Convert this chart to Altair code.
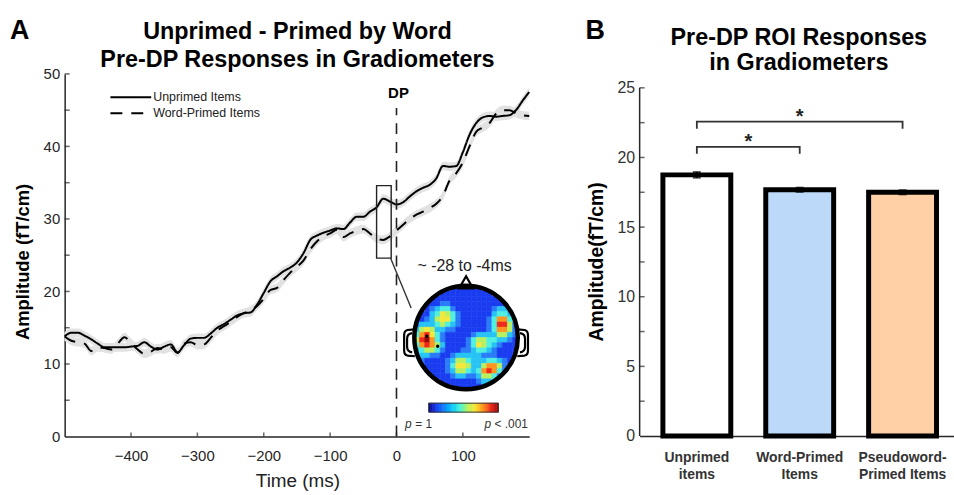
import altair as alt
import numpy as np
import pandas as pd

FONT = "Liberation Sans"
INK = "#262626"

# ---------------- data: panel A ----------------
time_ms = list(range(-500, 201, 10))
unprimed = [13.8, 14.3, 14.3, 13.9, 13.4, 12.8, 12.3, 12.3, 12.3, 12.3,
            12.4, 12.5, 13.0, 12.4, 12.0, 12.4, 12.7, 11.6, 12.6, 13.5,
            13.6, 13.6, 14.2, 15.0, 15.5, 16.1, 16.7, 17.0, 17.1, 18.2,
            19.8, 21.4, 22.1, 22.8, 23.3, 24.0, 25.3, 27.1, 27.7, 28.1,
            28.4, 28.7, 28.6, 29.5, 30.3, 30.3, 31.0, 31.6, 32.8, 32.4,
            32.0, 32.3, 33.1, 33.8, 34.3, 34.7, 35.6, 37.3, 37.2, 37.3,
            39.2, 41.6, 43.2, 44.0, 44.2, 44.1, 44.2, 44.3, 45.0, 46.3, 47.5]
word_primed = [13.8, 13.2, 13.0, 12.8, 11.8, 12.3, 12.2, 12.0, 12.8, 13.7,
               12.9, 12.0, 11.4, 11.7, 12.2, 12.0, 12.3, 11.5, 12.8, 13.0,
               12.6, 12.7, 13.6, 14.6, 15.2, 15.8, 16.5, 17.0, 17.4, 18.0,
               19.0, 20.2, 20.5, 21.6, 22.6, 23.4, 24.3, 25.8, 26.9, 27.6,
               28.0, 28.5, 27.5, 28.0, 28.4, 28.6, 28.0, 27.3, 27.1, 27.6,
               28.4, 29.2, 30.0, 30.6, 31.0, 31.5, 32.1, 33.2, 35.3, 36.3,
               37.8, 40.0, 42.0, 42.6, 43.2, 44.5, 45.0, 45.0, 44.6, 44.3, 44.2]
se_unprimed = 0.6
se_word_primed = 0.6
series_names = ["Unprimed Items", "Word-Primed Items"]
x_tick_values_a = [-400, -300, -200, -100, 0, 100]
y_label_values_a = [0, 10, 20, 30, 40, 50]
y_tick_values_a = [5, 10, 15, 20, 25, 30, 35, 40, 45, 50]
dp_time = 0
dp_top = 45.3
roi_time = [-30, -8]
roi_amp = [24.6, 34.6]
window_label = "~ -28 to -4ms"
# topographic map levels (1 = background blue ... 9 = dark red), rows top->bottom
topo_levels = [
    "11111111111111111111",
    "11111111111111111111",
    "11111111111111111111",
    "11111221111111111111",
    "11123442111111123321",
    "11134654211111134431",
    "11235664211111247742",
    "23334543211111248852",
    "35653322111111247752",
    "47864211111233335532",
    "58974211112455443321",
    "47875311112465432111",
    "34554211122344321111",
    "23322112333332221111",
    "12111123554333443211",
    "11111124665335775211",
    "11111123554347874211",
    "11111112332235542111",
    "11111111111123321111",
    "11111111111111111111",
]
jet_palette = ["#00008f", "#1a3cf0", "#2a7cf8", "#27c3f5", "#50f0e0",
               "#b8f060", "#f5e83a", "#ff9520", "#f0281a", "#9a0a0a"]

# ---------------- data: panel B ----------------
bar_labels = ["Unprimed\nitems", "Word-Primed\nItems", "Pseudoword-\nPrimed Items"]
bar_values = [18.75, 17.68, 17.5]
bar_errors = [0.2, 0.15, 0.15]
bar_colors = ["#ffffff", "#bcd9fa", "#ffd0a6"]
bracket_from = [1, 1]
bracket_to = [2, 3]
bracket_top = [20.76, 22.57]
bracket_drop = 0.5
bracket_text = ["*", "*"]
y_label_values_b = [0, 5, 10, 15, 20, 25]
y_tick_values_b = [2.5, 5, 7.5, 10, 12.5, 15, 17.5, 20, 22.5, 25]
y_axis_top_b = 25

# ---------------- layout ----------------
W1, H1 = 467, 364.5
OX1, OY1 = 65, 73
W2, H2 = 316, 364
OX2, OY2 = 638, 73

X1 = alt.Scale(domain=[-500, 200], nice=False, zero=False)
Y1 = alt.Scale(domain=[0, 50], nice=False, zero=False)
X2 = alt.Scale(domain=[0.444, 3.5], nice=False, zero=False)
Y2 = alt.Scale(domain=[0, 26], nice=False, zero=False)


def t_of(xabs):
    return -500 + (xabs - OX1) * 700 / W1


def v_of(yabs):
    return (OY1 + H1 - yabs) * 50 / H1


axis_x1 = alt.Axis(values=x_tick_values_a, ticks=False, grid=False, labelFontSize=15,
                   labelColor=INK, labelPadding=12, domainColor=INK, domainWidth=1.5,
                   labelFlush=False)
axis_y1 = alt.Axis(values=y_label_values_a, ticks=False, grid=False, labelFontSize=15,
                   labelColor=INK, labelPadding=5, domainColor=INK, domainWidth=1.5,
                   labelFlush=False)
axis_x2 = alt.Axis(labels=False, ticks=False, grid=False, domainColor=INK, domainWidth=1.5)
axis_y2 = alt.Axis(values=y_label_values_b, ticks=False, grid=False, labelFontSize=16,
                   labelColor="#333333", labelPadding=5, domain=False, labelFlush=False)


def xa(f):
    return alt.X(f, type="quantitative", scale=X1, axis=axis_x1, title=None)


def ya(f):
    return alt.Y(f, type="quantitative", scale=Y1, axis=axis_y1, title=None)


def xb(f):
    return alt.X(f, type="quantitative", scale=X2, axis=axis_x2, title=None)


def yb(f):
    return alt.Y(f, type="quantitative", scale=Y2, axis=axis_y2, title=None)


one = pd.DataFrame({"k": [0]})


def label(text, x, y, size, weight="normal", align="center", baseline="middle",
          angle=0, color="black", style="normal"):
    return alt.Chart(one).mark_text(text=text, fontSize=size, fontWeight=weight, align=align,
                                    baseline=baseline, angle=angle, color=color,
                                    fontStyle=style).encode(x=alt.value(x), y=alt.value(y))


# ---------------- panel A layers ----------------
rows = []
for name, vals, se in [(series_names[0], unprimed, se_unprimed),
                       (series_names[1], word_primed, se_word_primed)]:
    for t, v in zip(time_ms, vals):
        rows.append(dict(series=name, t=t, v=v, lo=v - se, hi=v + se))
df_series = pd.DataFrame(rows)

band = alt.Chart(df_series).mark_area(color="#e2e2e2", interpolate="monotone").encode(
    x=xa("t"), y=ya("lo"), y2="hi", detail="series:N")
lines = alt.Chart(df_series).mark_line(color="black", strokeWidth=2, interpolate="monotone").encode(
    x=xa("t"), y=ya("v"),
    strokeDash=alt.StrokeDash("series:N", scale=alt.Scale(domain=series_names, range=[[1, 0], [12, 9]]),
                              legend=None))

df_dp = pd.DataFrame({"t": [dp_time], "v0": [0], "v1": [dp_top], "vt": [47.3]})
dp_rule = alt.Chart(df_dp).mark_rule(strokeDash=[11, 8], strokeWidth=1.6, color="#222222").encode(
    x=xa("t"), y=ya("v0"), y2="v1")
dp_text = alt.Chart(df_dp).mark_text(text="DP", fontSize=15, fontWeight="bold", dx=2).encode(
    x=xa("t"), y=ya("vt"))

df_roi = pd.DataFrame({"t0": [roi_time[0]], "t1": [roi_time[1]], "v0": [roi_amp[0]], "v1": [roi_amp[1]]})
roi = alt.Chart(df_roi).mark_rect(filled=False, stroke="#222222", strokeWidth=1.4).encode(
    x=xa("t0"), x2="t1", y=ya("v0"), y2="v1")
df_conn = pd.DataFrame({"t0": [-9], "v0": [roi_amp[0]], "t1": [t_of(413.3)], "v1": [v_of(308.3)]})
conn = alt.Chart(df_conn).mark_rule(color="#333333", strokeWidth=1.4).encode(
    x=xa("t0"), y=ya("v0"), x2="t1", y2="v1")

# topomap inset
t0, v0 = t_of(468.5), v_of(338)
rt, rv = 52 * 700 / W1, 52 * 50 / H1
n = len(topo_levels)
cells = []
for j, row in enumerate(topo_levels):
    for i, ch in enumerate(row):
        uc = -1 + (i + 0.5) * 2 / n
        wc = 1 - (j + 0.5) * 2 / n
        if uc * uc + wc * wc <= 1.0:
            cells.append(dict(x0=t0 + (uc - 1 / n) * rt, x1=t0 + (uc + 1 / n) * rt,
                              y0=v0 + (wc + 1 / n) * rv, y1=v0 + (wc - 1 / n) * rv, lev=int(ch)))
df_cells = pd.DataFrame(cells)
CS = alt.Scale(domain=list(range(10)), range=jet_palette)
topo = alt.Chart(df_cells).mark_rect(strokeWidth=0.6).encode(
    x=xa("x0"), x2="x1", y=ya("y0"), y2="y1",
    color=alt.Color("lev:Q", scale=CS, legend=None),
    stroke=alt.Stroke("lev:Q", scale=CS, legend=None))

df_head = pd.DataFrame({"t": [t0], "v": [v0]})
mask = alt.Chart(df_head).mark_point(shape="circle", filled=False, color="white", strokeWidth=6,
                                     size=114 ** 2, opacity=1).encode(x=xa("t"), y=ya("v"))
head = alt.Chart(df_head).mark_point(shape="circle", filled=False, color="black", strokeWidth=4.5,
                                     size=104 ** 2, opacity=1).encode(x=xa("t"), y=ya("v"))
df_nose = pd.DataFrame({"t": [t0], "v": [v_of(282.5)]})
nose = alt.Chart(df_nose).mark_point(shape="triangle-up", filled=True, fill="white", stroke="black",
                                     strokeWidth=2.2, size=196, opacity=1).encode(x=xa("t"), y=ya("v"))
left_ear_path = ("M 0.3 -1 L -0.25 -0.95 Q -0.5 -0.9 -0.5 -0.55 L -0.5 0.55 Q -0.5 0.9 -0.25 0.95 L 0.3 1 "
                 "M 0.1 -0.72 Q -0.28 -0.68 -0.28 -0.3 L -0.28 0.3 Q -0.28 0.68 0.1 0.72")
right_ear_path = ("M -0.3 -1 L 0.25 -0.95 Q 0.5 -0.9 0.5 -0.55 L 0.5 0.55 Q 0.5 0.9 0.25 0.95 L -0.3 1 "
                  "M -0.1 -0.72 Q 0.28 -0.68 0.28 -0.3 L 0.28 0.3 Q 0.28 0.68 -0.1 0.72")
df_lear = pd.DataFrame({"t": [t_of(413)], "v": [v_of(343.3)]})
df_rear = pd.DataFrame({"t": [t_of(524)], "v": [v_of(343.3)]})
lear = alt.Chart(df_lear).mark_point(shape=left_ear_path, filled=False, color="black", strokeWidth=2.2,
                                     size=729, opacity=1).encode(x=xa("t"), y=ya("v"))
rear = alt.Chart(df_rear).mark_point(shape=right_ear_path, filled=False, color="black", strokeWidth=2.2,
                                     size=729, opacity=1).encode(x=xa("t"), y=ya("v"))
df_dots = pd.DataFrame({"t": [t_of(429), t_of(440)], "v": [v_of(336.7), v_of(346.7)]})
dots = alt.Chart(df_dots).mark_point(shape="circle", filled=True, color="black", size=12,
                                     opacity=1).encode(x=xa("t"), y=ya("v"))

ncb = 40
cb_edges = np.linspace(t_of(431), t_of(501), ncb + 1)
df_cb = pd.DataFrame({"x0": cb_edges[:-1], "x1": cb_edges[1:],
                      "lev": (np.arange(ncb) + 0.5) / ncb * 9,
                      "y0": v_of(404), "y1": v_of(413)})
cbar = alt.Chart(df_cb).mark_rect(strokeWidth=0.6).encode(
    x=xa("x0"), x2="x1", y=ya("y0"), y2="y1",
    color=alt.Color("lev:Q", scale=CS, legend=None),
    stroke=alt.Stroke("lev:Q", scale=CS, legend=None))
df_cbb = pd.DataFrame({"x0": [t_of(431)], "x1": [t_of(501)], "y0": [v_of(404)], "y1": [v_of(413)]})
cbar_border = alt.Chart(df_cbb).mark_rect(filled=False, stroke="#333333", strokeWidth=1).encode(
    x=xa("x0"), x2="x1", y=ya("y0"), y2="y1")

df_yt = pd.DataFrame({"v": y_tick_values_a})
yticks_a = alt.Chart(df_yt).mark_tick(orient="horizontal", size=5, thickness=1.5, color=INK,
                                      xOffset=2.5).encode(y=ya("v"), x=alt.value(0))
df_xt = pd.DataFrame({"t": x_tick_values_a})
xticks_a = alt.Chart(df_xt).mark_tick(orient="vertical", size=4, thickness=1.5, color=INK,
                                      yOffset=-2).encode(x=xa("t"), y=alt.value(H1))

leg_solid = alt.Chart(one).mark_rule(color="black", strokeWidth=2).encode(
    x=alt.value(46), x2=alt.value(87), y=alt.value(23.5))
leg_dash = alt.Chart(one).mark_rule(color="black", strokeWidth=2, strokeDash=[12, 9]).encode(
    x=alt.value(46), x2=alt.value(87), y=alt.value(39.5))

layers_a = [
    band, lines, dp_rule, dp_text, roi, conn, topo, mask, lear, rear, nose, head, dots,
    cbar, cbar_border, yticks_a, xticks_a, leg_solid, leg_dash,
    label(series_names[0], 89, 23.5, 12.5, align="left", color="#222222"),
    label(series_names[1], 89, 39.5, 12.5, align="left", color="#222222"),
    label(window_label, 402, 193, 16, color="#222222"),
    label("p", 342, 352, 12, align="left", color="#333333", style="italic"),
    label("= 1", 352.5, 352, 12, align="left", color="#333333"),
    label("p", 422, 352, 12, align="left", color="#333333", style="italic"),
    label("< .001", 432, 352, 12, align="left", color="#333333"),
    label("A", -55, -56, 27, weight="bold", align="left", baseline="top"),
    label("Unprimed - Primed by Word", 234, -42.5, 23.5, weight="bold"),
    label("Pre-DP Responses in Gradiometers", 234, -14, 23.5, weight="bold"),
    label("Amplitude (fT/cm)", -42, 189, 18.5, weight="bold", angle=270),
    label("Time (ms)", 234.5, 409, 19, color="#222222"),
]
left = alt.layer(*layers_a).properties(width=W1, height=H1)

# ---------------- panel B layers ----------------
pos = [1, 2, 3]
df_bars = pd.DataFrame({"cat": bar_labels, "pos": pos, "val": bar_values, "err": bar_errors})
df_bars["x0"] = df_bars["pos"] - 0.33
df_bars["x1"] = df_bars["pos"] + 0.33
df_bars["base"] = 0.0
df_bars["lo"] = df_bars["val"] - df_bars["err"]
df_bars["hi"] = df_bars["val"] + df_bars["err"]

y_axis_line = alt.Chart(pd.DataFrame({"v0": [0], "v1": [y_axis_top_b]})).mark_rule(
    color=INK, strokeWidth=1.5).encode(x=alt.value(0), y=yb("v0"), y2="v1")
bars = alt.Chart(df_bars).mark_rect(stroke="black", strokeWidth=5).encode(
    x=xb("x0"), x2="x1", y=yb("val"), y2="base",
    color=alt.Color("cat:N", scale=alt.Scale(domain=bar_labels, range=bar_colors), legend=None))
err_rule = alt.Chart(df_bars).mark_rule(color="black", strokeWidth=2).encode(
    x=xb("pos"), y=yb("lo"), y2="hi")
err_lo = alt.Chart(df_bars).mark_tick(orient="horizontal", size=8, thickness=2, color="black").encode(
    x=xb("pos"), y=yb("lo"))
err_hi = alt.Chart(df_bars).mark_tick(orient="horizontal", size=8, thickness=2, color="black").encode(
    x=xb("pos"), y=yb("hi"))

brows = []
for b, (a, c, top) in enumerate(zip(bracket_from, bracket_to, bracket_top)):
    for k, (xx, yy) in enumerate([(a, top - bracket_drop), (a, top), (c, top), (c, top - bracket_drop)]):
        brows.append(dict(b=b, k=k, x=xx, y=yy))
df_br = pd.DataFrame(brows)
brackets = alt.Chart(df_br).mark_line(color="#333333", strokeWidth=1.8).encode(
    x=xb("x"), y=yb("y"), detail="b:N", order="k:Q")
df_star = pd.DataFrame({"x": [(a + c) / 2 for a, c in zip(bracket_from, bracket_to)],
                        "y": [t - 0.1 for t in bracket_top], "s": bracket_text})
stars = alt.Chart(df_star).mark_text(fontSize=20, fontWeight="bold", baseline="alphabetic",
                                     color="#222222").encode(x=xb("x"), y=yb("y"), text="s:N")
cat_text = alt.Chart(df_bars).mark_text(fontSize=14, fontWeight="bold", color="#333333", baseline="top",
                                        lineBreak="\n", lineHeight=17).encode(
    x=xb("pos"), y=alt.value(H2 + 15), text="cat:N")
df_ytb = pd.DataFrame({"v": y_tick_values_b})
yticks_b = alt.Chart(df_ytb).mark_tick(orient="horizontal", size=5, thickness=1.5, color=INK,
                                       xOffset=2.5).encode(y=yb("v"), x=alt.value(0))

layers_b = [
    y_axis_line, bars, err_rule, err_lo, err_hi, brackets, stars, cat_text, yticks_b,
    label("B", -54.5, -56, 27, weight="bold", align="left", baseline="top"),
    label("Pre-DP ROI Responses", 160, -36.3, 23.5, weight="bold"),
    label("in Gradiometers", 160, -11.3, 23.5, weight="bold"),
    label("Amplitude(fT/cm)", -43, 189, 19.5, weight="bold", angle=270),
]
right = alt.layer(*layers_b).properties(width=W2, height=H2)

chart = alt.hconcat(left, right, spacing=50).properties(
    padding={"left": 10, "top": 16, "right": 0, "bottom": 0},
    background="white",
).configure(font=FONT).configure_view(stroke=None)

chart.save("out.html", embed_options={"renderer": "svg", "actions": False})
